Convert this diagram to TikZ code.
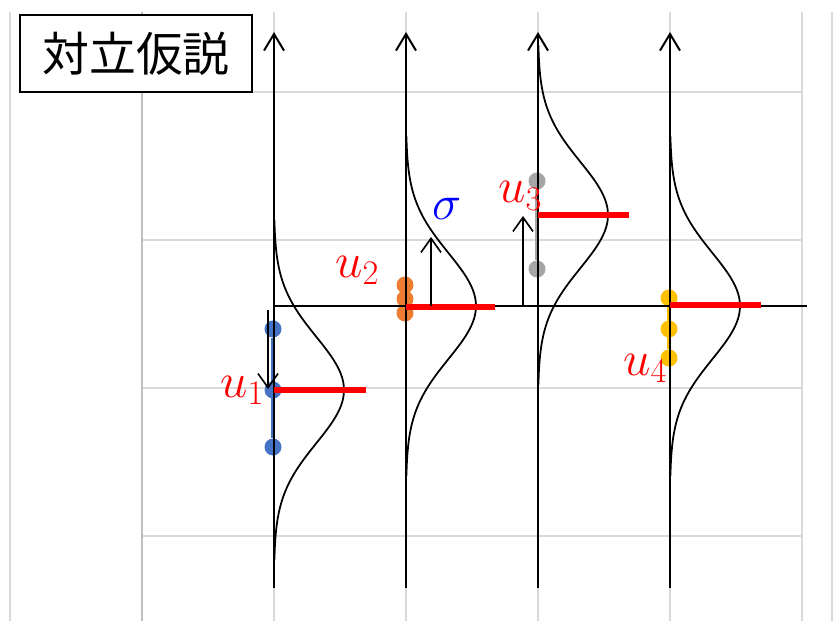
\RequirePackage{fix-cm}
\documentclass[tikz,border=0pt]{standalone}
\usepackage{fontspec}
\usepackage{tikz}
\usetikzlibrary{arrows.meta}
\newfontfamily\jpfont{Noto Sans CJK JP}
\definecolor{gridgray}{RGB}{217,217,217}
\definecolor{griddark}{RGB}{191,191,191}
\definecolor{dotblue}{RGB}{68,114,196}
\definecolor{dotorange}{RGB}{237,125,49}
\definecolor{dotgray}{RGB}{165,165,165}
\definecolor{dotgold}{RGB}{255,192,0}
\tikzset{
  gridline/.style={gridgray, line width=1.6pt},
  axisline/.style={line width=1.7pt, -{Straight Barb[length=0.5cm,width=0.6cm]}},
  sigarrow/.style={line width=1.4pt, -{Straight Barb[length=0.42cm,width=0.6cm]}},
  density/.style={line width=1.5pt},
  meanline/.style={red, line width=5pt},
  dot/.style={circle, inner sep=0pt, minimum size=0.51cm},
  ulabel/.style={red, inner sep=0pt, font=\fontsize{42}{46}\selectfont},
  titlebox/.style={draw, line width=1.5pt, inner sep=0pt, minimum width=6.96cm, minimum height=2.31cm, font=\jpfont\fontsize{40}{44}\selectfont}
}

\begin{document}
\begin{tikzpicture}[x=0.03cm, y=-0.03cm]
  \useasboundingbox (0,0) rectangle (833,621);
  \foreach \gy in {92,240,388,536} \draw[gridline] (142,\gy) -- (802,\gy);
  \foreach \gx in {274,406,538,670,802,832} \draw[gridline] (\gx,12) -- (\gx,621);
  \draw[gridline] (10,12) -- (10,621);
  \draw[griddark, line width=1.6pt] (142,12) -- (142,621);
  \node[titlebox, fill=white] (title) at (136,53.5) {対立仮説};

  \foreach \ax/\cy in {274/390,406/306,538/215,670/306}
    \draw[density] plot[domain=-3.2:3.2, samples=81] ({\ax+70*exp(-0.5*\x*\x)}, {\cy+53*\x});

  \node[dot, fill=dotblue] (b1) at (273,329) {}; \node[dot, fill=dotblue] (b2) at (273,390) {}; \node[dot, fill=dotblue] (b3) at (273,447) {};
  \draw[dotblue, line width=3.2pt] (b1) -- (b3);
  \node[dot, fill=dotorange] (o1) at (405,285) {}; \node[dot, fill=dotorange] (o2) at (405,299) {}; \node[dot, fill=dotorange] (o3) at (405,313) {};
  \node[dot, fill=dotgray] (g1) at (537,181) {}; \node[dot, fill=dotgray] (g2) at (537,269) {};
  \draw[dotgray, line width=3.2pt] (g1) -- (g2);
  \node[dot, fill=dotgold] (y1) at (669,298) {}; \node[dot, fill=dotgold] (y2) at (669,329) {}; \node[dot, fill=dotgold] (y3) at (669,358) {};
  \draw[dotgold, line width=3.2pt] (y1) -- (y3);

  \foreach \i/\ax in {1/274,2/406,3/538,4/670} {
    \coordinate (bot\i) at (\ax,588); \coordinate (top\i) at (\ax,32);
    \draw[axisline] (bot\i) -- (top\i);
  }
  \coordinate (h0) at (274,306); \coordinate (h1) at (807,306);
  \draw[line width=1.4pt] (h0) -- (h1);

  \coordinate (m1) at (274,390); \coordinate (e1) at (366,390); \draw[meanline] (m1) -- (e1);
  \coordinate (m2) at (406,307); \coordinate (e2) at (495,307); \draw[meanline] (m2) -- (e2);
  \coordinate (m3) at (538,215); \coordinate (e3) at (629,215); \draw[meanline] (m3) -- (e3);
  \coordinate (m4) at (670,305); \coordinate (e4) at (761,305); \draw[meanline] (m4) -- (e4);

  \coordinate (s1a) at (268,310); \coordinate (s1b) at (268,389); \draw[sigarrow] (s1a) -- (s1b);
  \coordinate (s2a) at (431,306); \coordinate (s2b) at (431,237); \draw[sigarrow] (s2a) -- (s2b);
  \coordinate (s3a) at (523,306); \coordinate (s3b) at (523,216); \draw[sigarrow] (s3a) -- (s3b);

  \node[ulabel, anchor=base west] (lab1) at (220,397) {$u_1$};
  \node[ulabel, anchor=base west] (lab2) at (335,277) {$u_2$};
  \node[ulabel, anchor=base west] (lab3) at (498,203) {$u_3$};
  \node[ulabel, anchor=base west] (lab4) at (623,375) {$u_4$};
  \node[ulabel, blue, anchor=base west] (sig) at (432,220) {$\sigma$};
\end{tikzpicture}
\end{document}
